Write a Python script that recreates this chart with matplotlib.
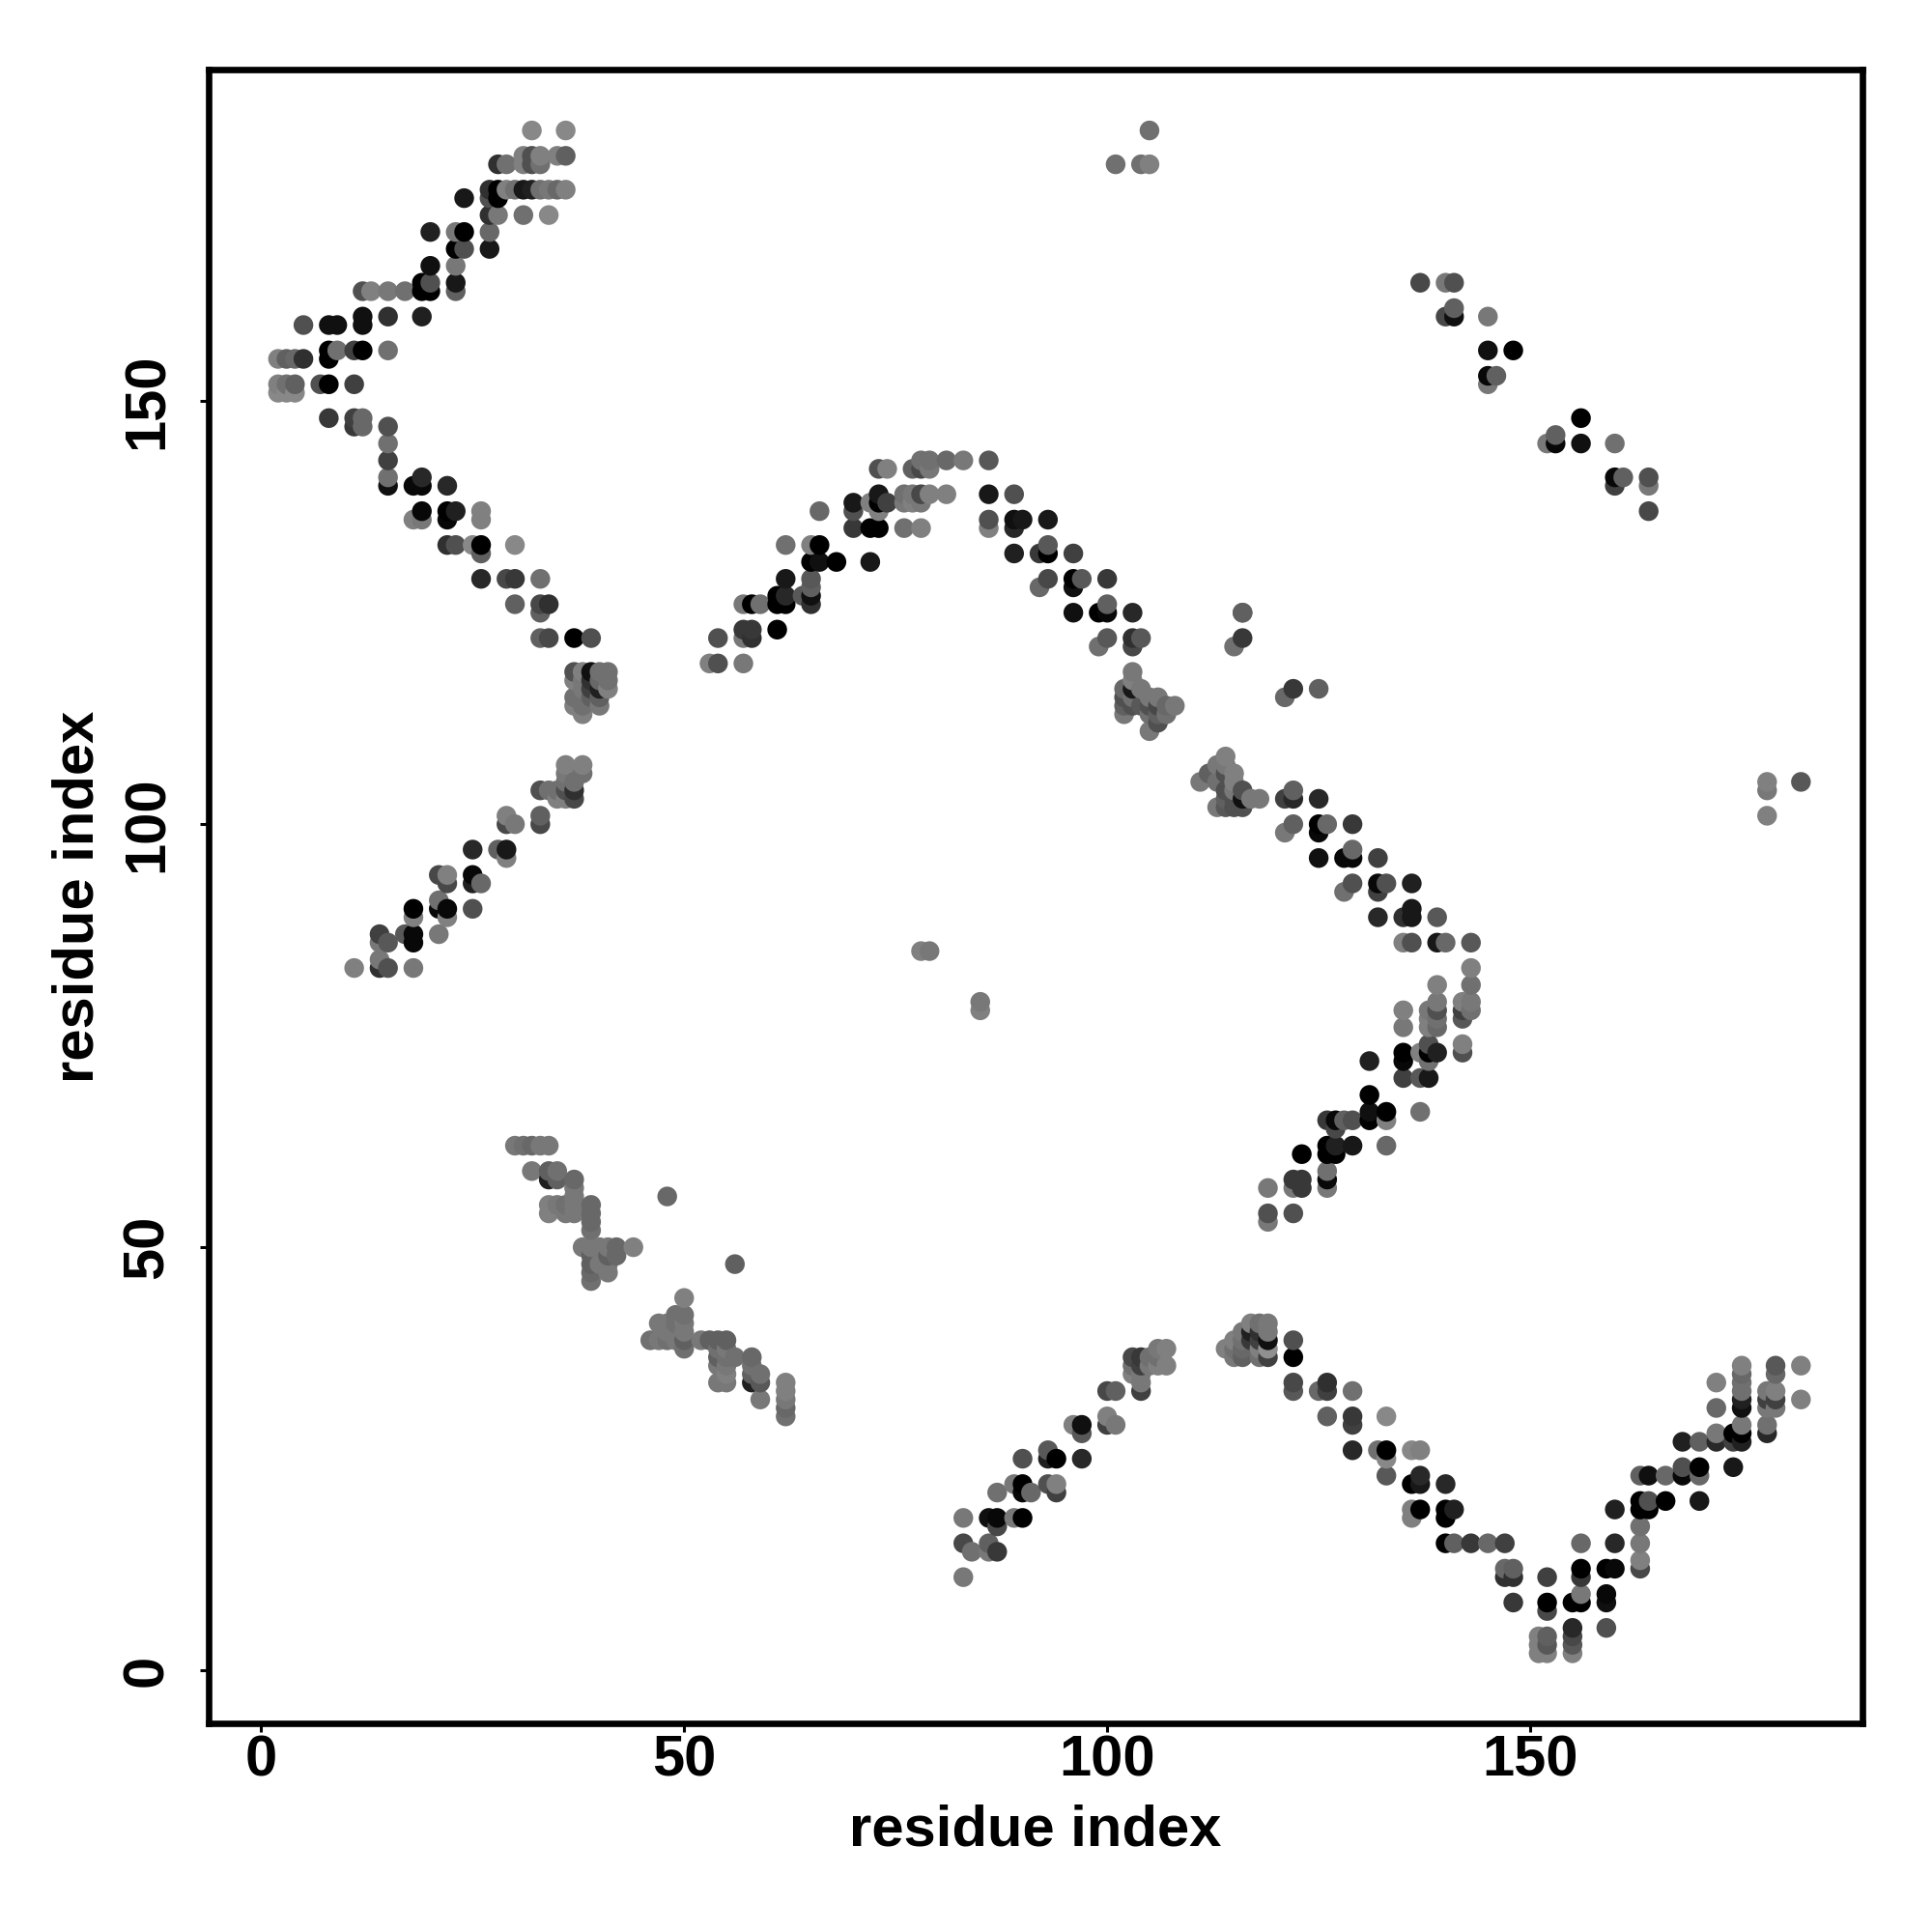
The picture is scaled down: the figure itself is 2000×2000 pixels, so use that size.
import numpy as np
import matplotlib
matplotlib.use('Agg')
import matplotlib.pyplot as plt

plt.rcParams['font.family'] = ['Liberation Sans', 'DejaVu Sans']
plt.rcParams['font.weight'] = 'bold'

# contact map: residue pairs and a grey level (0 black, 255 white)
# upper left arm
ul_x = [32,36, 36,35,33,32,31, 28,29,31,32,33, 27,28,29,30,31,32,33,34,35,36, 24,27,28,
        27,28,31,34, 20,23,24,27, 23,24,27, 20,23, 19,20,23, 12,13,15,17,19,20,23, 12,15,19,
        5,8,9,12, 8,9,11,12,15, 2,3,4,5,8, 2,3,4,7,8,11, 2,3,4, 8,11,12, 11,12,15, 15, 15,
        15,19, 15,18,19,22, 19,22,23,26, 18,19,22,26, 22,23,25,26,30, 26, 26,29,30,33,
        30,33,34, 33, 33,34,37,39]
ul_y = [182,182, 179,179,179,179,179, 178,178,178,178,178, 175,175,175,175,175,175,175,175,175,175, 174,174,174,
        172,172,172,172, 170,170,170,170, 168,168,168, 166,166, 164,164,164, 163,163,163,163,163,163,163, 160,160,160,
        159,159,159,159, 156,156,156,156,156, 155,155,155,155,155, 152,152,152,152,152,152, 151,151,151, 148,148,148, 147,147,147, 145, 143,
        141,141, 140,140,140,140, 137,137,137,137, 136,136,136,136, 133,133,133,133,133, 132, 129,129,129,129,
        126,126,126, 125, 122,122,122,122]
ul_g = [0x88,0x88, 0x60,0x80,0x80,0x50,0x80, 0x30,0x70,0x80,0x50,0x70, 0x30,0x00,0x80,0x70,0x18,0x20,0x70,0x78,0x68,0x80, 0x18,0x50,0x00,
        0x30,0x78,0x70,0x88, 0x20,0x78,0x00,0x68, 0x00,0x50,0x18, 0x10,0x78, 0x00,0x50,0x18, 0x50,0x80,0x78,0x70,0x00,0x00,0x60, 0x10,0x30,0x20,
        0x50,0x10,0x10,0x10, 0x00,0x70,0x40,0x00,0x70, 0x80,0x60,0x68,0x30,0x00, 0x80,0x70,0x60,0x50,0x00,0x40, 0x88,0x88,0x88, 0x38,0x40,0x68, 0x38,0x68,0x50, 0x70, 0x40,
        0x70,0x28, 0x10,0x08,0x08,0x28, 0x08,0x00,0x20,0x80, 0x80,0x78,0x08,0x80, 0x30,0x50,0x88,0x00,0x88, 0x60, 0x28,0x48,0x38,0x70,
        0x60,0x48,0x30, 0x60, 0x60,0x48,0x00,0x50]

# knot at 37-41 / 113-118
k1_x = [37,38,39,40,41, 37,38,39,40,41, 38,39,40,41, 37,38,39,40, 37,38,40, 38]
k1_y = [118,118,118,118,118, 117,117,117,117,117, 116,116,116,116, 115,115,115,115, 114,114,114, 113]
k1_g = [0x50,0x80,0x10,0x70,0x70, 0x80,0x78,0x30,0x68,0x70, 0x78,0x40,0x20,0x80, 0x70,0x70,0x60,0x60, 0x80,0x70,0x78, 0x80]

# lower left arm
ll_x = [36,38, 36,38, 36,37, 33,34,35,36,37, 35,36,37, 29,33, 29,30,33, 25,28,29, 29, 21,22,25, 22,25,26,
        21, 18,21,22,25, 18,22, 14,17,18,21, 14,15,18, 14, 11,14,15,18]
ll_y = [107,107, 106,106, 105,105, 104,104,104,104,104, 103,103,103, 101,101, 100,100,100, 97,97,97, 96, 94,94,94, 93,93,93,
        91, 90,90,90,90, 89,89, 87,87,87,87, 86,86,86, 84, 83,83,83,83]
ll_g = [0x80,0x80, 0x78,0x70, 0x70,0x70, 0x50,0x70,0x70,0x50,0x30, 0x80,0x80,0x48, 0x80,0x60, 0x48,0x78,0x48, 0x28,0x60,0x18, 0x80, 0x48,0x80,0x08, 0x48,0x20,0x68,
        0x70, 0x00,0x08,0x08,0x50, 0x80,0x80, 0x40,0x58,0x08,0x78, 0x78,0x58,0x08, 0x78, 0x80,0x30,0x50,0x78]

# central arch
ar_x = [78,79,81,83,86, 73,74,77,78,79, 86,89,73,76,77,78,79,81, 70,72,73,74,76,77,78, 66,70,73,
        86,89,90,93, 70,72,73,76,78,86,89, 62,65,66,93, 89,92,93,96, 65,66,68,72, 62,65,93,96,97,
        65,92,96, 61,62,64,65, 57,58,59,61,62,65, 96, 57,58,61, 54,57,58, 53,54,57]
ar_y = [143,143,143,143,143, 142,142,142,142,142, 139,139,139,139,139,139,139,139, 138,138,138,138,138,138,138, 137,137,137,
        136,136,136,136, 135,135,135,135,135,135,135, 133,133,133,133, 132,132,132,132, 131,131,131,131, 129,129,129,129,129,
        128,128,128, 127,127,127,127, 126,126,126,126,126,126, 125, 123,123,123, 122,122,122, 119,119,119]
ar_g = [0x70,0x70,0x68,0x78,0x58, 0x50,0x80,0x60,0x48,0x78, 0x18,0x50,0x18,0x70,0x78,0x48,0x80,0x80, 0x18,0x80,0x00,0x40,0x78,0x80,0x78, 0x68,0x50,0x80,
        0x50,0x10,0x18,0x18, 0x38,0x00,0x00,0x70,0x80,0x80,0x28, 0x70,0x80,0x00,0x58, 0x20,0x38,0x00,0x40, 0x00,0x10,0x00,0x18, 0x18,0x58,0x48,0x00,0x58,
        0x60,0x68,0x10, 0x00,0x28,0x58,0x10, 0x78,0x00,0x70,0x00,0x00,0x30, 0x10, 0x38,0x38,0x00, 0x50,0x78,0x30, 0x80,0x50,0x78]

# upper right of the arch and the knot at 102-108
ak_x = [100, 99,100,100,103, 100,99,103,103,104, 103,103,102,103,104, 102,103,105,106, 102,103,104,105,106,107,108,
        102,105,106,107, 106,105]
ak_y = [129, 125,125,126,125, 122,121,122,121,122, 118,117,116,116,116, 115,115,115,115, 114,114,114,114,114,114,114,
        113,113,113,113, 112,111]
ak_g = [0x38, 0x00,0x08,0x60,0x28, 0x58,0x70,0x30,0x48,0x58, 0x78,0x80,0x68,0x18,0x78, 0x50,0x70,0x78,0x78, 0x60,0x50,0x58,0x50,0x48,0x68,0x78,
        0x78,0x70,0x60,0x70, 0x50,0x78]

# right arm, upper half
ru_x = [114, 113,114, 112,114,115, 111,113,115, 114,115,116, 114,115,116,117,118, 113,114,115,116,
        121,122,125, 122, 122,125,126,129, 121,125, 129, 125,128,129,132, 129,132,133,136, 128,132, 136,
        132,135,136,139, 135,136,139,140,143]
ru_y = [108, 107,107, 106,106,106, 105,105,105, 104,104,104, 103,103,103,103,103, 102,102,102,102,
        103,103,103, 104, 100,100,100,100, 99,99, 97, 96,96,96,96, 93,93,93,93, 92,92, 90,
        89,89,89,89, 86,86,86,86,86]
ru_g = [0x80, 0x78,0x78, 0x60,0x50,0x80, 0x78,0x70,0x80, 0x50,0x78,0x50, 0x60,0x50,0x10,0x78,0x78, 0x78,0x58,0x50,0x50,
        0x40,0x28,0x28, 0x60, 0x60,0x00,0x68,0x38, 0x78,0x08, 0x68, 0x10,0x08,0x08,0x40, 0x50,0x08,0x50,0x20, 0x70,0x40, 0x18,
        0x28,0x30,0x18,0x58, 0x80,0x50,0x18,0x68,0x58]

# right arm, lower half
rl_x = [143, 139,143, 139,142,143, 135,138,139,142,143, 138,139,142, 135,138,139, 138,142,
        135,137,138,139,142, 131,135,138, 135,137,138, 131, 131,133,137, 126,127,128,129,131,133, 127,
        126,127,129,133, 123,126,127, 126, 122,123,126, 119,122,123,126, 119,122, 119]
rl_y = [83, 81,81, 79,79,79, 78,78,78,78,78, 77,77,77, 76,76,76, 74,74,
        73,73,73,73,73, 72,72,72, 70,70,70, 68, 66,66,66, 65,65,65,65,65,65, 64,
        62,62,62,62, 61,61,61, 59, 58,58,58, 57,57,57,57, 54,54, 53]
rl_g = [0x80, 0x80,0x70, 0x78,0x80,0x78, 0x80,0x78,0x50,0x40,0x70, 0x80,0x70,0x58, 0x78,0x80,0x68, 0x50,0x80,
        0x00,0x80,0x00,0x20,0x50, 0x20,0x08,0x70, 0x40,0x58,0x18, 0x00, 0x10,0x00,0x70, 0x38,0x08,0x60,0x50,0x00,0x80, 0x48,
        0x00,0x20,0x18,0x68, 0x00,0x00,0x00, 0x70, 0x38,0x38,0x08, 0x78,0x78,0x38,0x78, 0x50,0x50, 0x78]

# lower left strand
sl_x = [30,31,32,33,34, 32,34,35, 34,35,37, 37, 37,48, 34,35,36,37,39, 34,36,37,39, 39, 39,
        38,39,40,41,42,44, 39,41,42, 39,40,41,56, 39,41, 39,
        50, 49,50, 47,48,49,50, 48,49,50, 46,47,48,49,50,52,53,54,55, 50,54,55, 54,55,56,58, 54,55,58,
        55,58,59, 54,55,58,59,62, 62, 59,62, 62, 62]
sl_y = [62,62,62,62,62, 59,59,59, 58,58,58, 57, 56,56, 55,55,55,55,55, 54,54,54,54, 53, 52,
        50,50,50,50,50,50, 49,49,49, 48,48,48,48, 47,47, 46,
        44, 42,42, 41,41,41,41, 40,40,40, 39,39,39,39,39,39,39,39,39, 38,38,38, 37,37,37,37, 36,36,36,
        35,35,35, 34,34,34,34,34, 33, 32,32, 31, 30]
sl_g = [0x78,0x70,0x68,0x78,0x78, 0x78,0x60,0x70, 0x20,0x60,0x68, 0x78, 0x78,0x68, 0x80,0x78,0x70,0x78,0x68, 0x80,0x78,0x78,0x68, 0x68, 0x70,
        0x78,0x78,0x78,0x78,0x68,0x80, 0x60,0x60,0x68, 0x60,0x78,0x78,0x60, 0x68,0x78, 0x70,
        0x80, 0x70,0x70, 0x78,0x78,0x70,0x78, 0x78,0x78,0x78, 0x70,0x78,0x70,0x78,0x60,0x78,0x60,0x60,0x60, 0x70,0x70,0x78, 0x60,0x70,0x70,0x68, 0x78,0x78,0x70,
        0x80,0x60,0x70, 0x78,0x78,0x20,0x58,0x80, 0x80, 0x78,0x78, 0x68, 0x70]

# lower strand rising to the 114-119 knot
lm_x = [83,83,84,83,86,86,87, 86,87,89,90, 87, 87,90,91, 89,90,93,94, 94, 90,93,94,97, 93, 96,97,100,101, 100, 97,
        100,101,104, 104, 103,104, 103,104,105,106,107, 103,104,105,106, 106,107]
lm_y = [11,18,14,15,15,14,14, 18,18,18,18, 17, 21,21,21, 22,22,22,22, 21, 25,25,25,25, 26, 29,29,29,29, 30, 28,
        33,33,33, 34, 35,35, 36,36,36,36,36, 37,37,37,37, 38,38]
lm_g = [0x78,0x78,0x70,0x48,0x60,0x78,0x38, 0x10,0x08,0x78,0x00, 0x48, 0x70,0x08,0x68, 0x78,0x00,0x50,0x80, 0x40, 0x50,0x20,0x00,0x28, 0x58, 0x80,0x10,0x40,0x78, 0x80, 0x58,
        0x48,0x60,0x40, 0x78, 0x80,0x78, 0x70,0x40,0x78,0x80,0x80, 0x48,0x38,0x70,0x70, 0x78,0x80]

kn_x = [114,115,116, 115,116,118,119, 115,116,117,118,119, 116,117,118,119, 117,118,119, 118,119, 122, 122]
kn_y = [38,38,38, 37,37,37,37, 39,39,39,39,39, 40,40,40,40, 41,41,41, 38,38, 39, 37]
kn_g = [0x80,0x70,0x68, 0x78,0x60,0x70,0x40, 0x80,0x70,0x38,0x40,0x10, 0x78,0x20,0x30,0x78, 0x80,0x70,0x78, 0x80,0x90, 0x50, 0x00]

# lower right V
lr_x = [122,126, 122,125,126,129, 126,129,133, 129, 129,132,133,136,137, 133,133,137, 136,137,140,
        136,137,140,141, 136,140, 140,141,143,145,147, 147,148,156,159,160,163, 147,148,152,156,
        148,152,155,156,159, 156,159, 152, 155,159, 151,152,155, 151,152,155, 151,152,155,
        156,160,163, 163, 163, 160,163,164,170,166, 163,164, 163,164,166,168,170, 168,170,174,
        168,170,172,174,175, 172,174,175,178, 175,178, 172,175,178,179, 175,178,179,182,
        175,178,179, 172,175, 175,179, 175,179,182]
lr_y = [34,34, 33,33,33,33, 30,30,30, 29, 26,26,26,26,26, 25,23,23, 22,22,22,
        19,19,19,19, 18,18, 15,15,15,15,15, 12,12,12,12,12,12, 11,11,11,11,
        8,8,8,8,8, 9,9, 7, 5,5, 4,4,4, 3,3,3, 2,2,2,
        15,15,15, 17, 13, 19,19,19,20,20, 20,20, 23,23,23,23,23, 24,24,24,
        27,27,27,27,27, 28,28,28,28, 29,29, 31,31,31,31, 32,32,32,32,
        33,33,33, 34,34, 35,35, 36,36,36]
lr_g = [0x48,0x30, 0x58,0x68,0x40,0x70, 0x60,0x38,0x88, 0x40, 0x28,0x70,0x00,0x88,0x80, 0x88,0x58,0x28, 0x00,0x18,0x28,
        0x80,0x00,0x00,0x20, 0x80,0x00, 0x00,0x60,0x38,0x68,0x40, 0x68,0x60,0x00,0x00,0x08,0x48, 0x30,0x30,0x40,0x38,
        0x38,0x00,0x00,0x00,0x10, 0x78,0x08, 0x48, 0x28,0x50, 0x80,0x60,0x48, 0x80,0x58,0x58, 0x80,0x80,0x80,
        0x68,0x28,0x78, 0x70, 0x80, 0x20,0x00,0x00,0x18,0x00, 0x00,0x50, 0x60,0x10,0x68,0x08,0x68, 0x50,0x00,0x18,
        0x20,0x60,0x28,0x40,0x20, 0x78,0x00,0x00,0x28, 0x78,0x70, 0x68,0x10,0x78,0x78, 0x20,0x40,0x40,0x80,
        0x70,0x78,0x80, 0x80,0x70, 0x68,0x68, 0x80,0x58,0x80]

# upper right strand
ur_x = [137,140,141, 141, 140,141,145, 145,148, 145,146, 145, 156, 153, 152,153,156,160, 160,161,164, 160,164, 164]
ur_y = [164,164,164, 161, 160,160,160, 156,156, 153,153, 152, 148, 146, 145,145,145,145, 141,141,141, 140,140, 137]
ur_g = [0x48,0x78,0x50, 0x60, 0x48,0x10,0x78, 0x10,0x00, 0x08,0x60, 0x78, 0x00, 0x60, 0x78,0x08,0x10,0x70, 0x08,0x60,0x50, 0x40,0x78, 0x48]

# isolated contacts
lone_x = [101,104,105,105, 78,79, 85,85, 178,178,178,182, 115,116,116, 121,122,125,116]
lone_y = [178,178,178,182, 85,85, 79,78, 105,104,101,105, 121,122,125, 115,116,116,125]
lone_g = [0x70,0x70,0x80,0x70, 0x80,0x78, 0x78,0x80, 0x80,0x78,0x80,0x58, 0x70,0x38,0x60, 0x68,0x38,0x60,0x60]

res_x = np.array(ul_x + k1_x + ll_x + ar_x + ak_x + ru_x + rl_x + sl_x + lm_x + kn_x + lr_x + ur_x + lone_x)
res_y = np.array(ul_y + k1_y + ll_y + ar_y + ak_y + ru_y + rl_y + sl_y + lm_y + kn_y + lr_y + ur_y + lone_y)
shade = np.array(ul_g + k1_g + ll_g + ar_g + ak_g + ru_g + rl_g + sl_g + lm_g + kn_g + lr_g + ur_g + lone_g)

ticks = [0, 50, 100, 150]

fig = plt.figure(figsize=(10, 10), dpi=200)
ax = fig.add_axes([216 / 2000, 216 / 2000, 1712 / 2000, 1712 / 2000])

# later residues sit on top in the original
order = np.lexsort((res_y, res_x))
ax.scatter(res_x[order], res_y[order], c=shade[order], cmap='gray', vmin=0, vmax=255,
           s=54, linewidths=0, clip_on=False, zorder=3)

ax.set_xlim(-6.2, 189.27)
ax.set_ylim(-6.28, 189.2)
for side in ax.spines.values():
    side.set_linewidth(2.4)

ax.set_xticks(ticks)
ax.set_yticks(ticks)
ax.tick_params(axis='both', length=3.1, width=1.1, labelsize=21.5)
ax.tick_params(axis='x', pad=1)
ax.tick_params(axis='y', pad=9.7)
for lab in ax.get_yticklabels():
    lab.set_rotation(90)
    lab.set_va('center')

ax.set_xlabel('residue index', fontsize=21.5, fontweight='bold', labelpad=6)
ax.set_ylabel('residue index', fontsize=21.5, fontweight='bold', labelpad=6.2)

fig.savefig('out.png', dpi=200)
